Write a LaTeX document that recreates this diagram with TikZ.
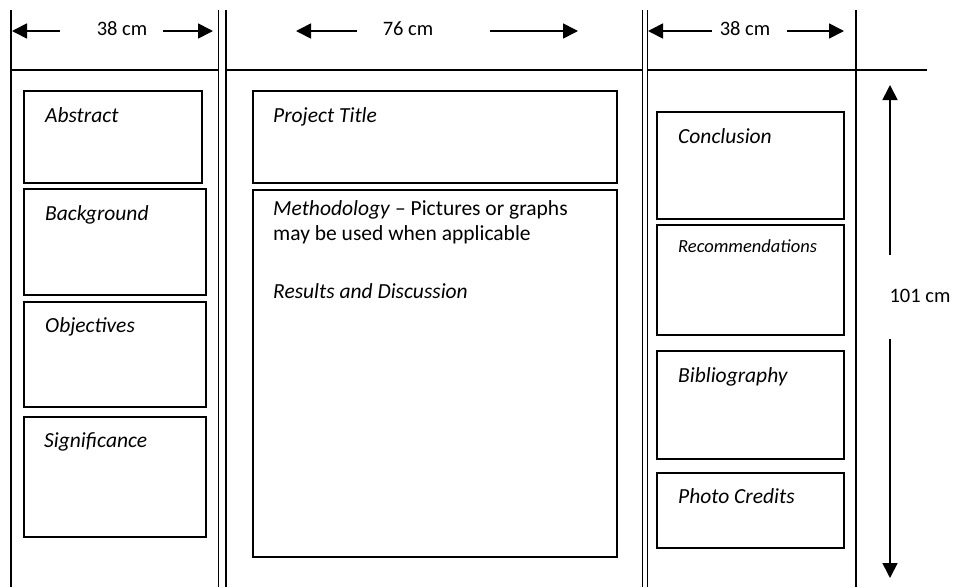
\documentclass[tikz,border=0pt]{standalone}
\usepackage{fontspec}
\setmainfont{Carlito}
\usetikzlibrary{arrows.meta}
\begin{document}
\begin{tikzpicture}[x=1pt,y=-1pt,
  frame/.style={line width=1.1pt},
  box/.style={draw, line width=1.4pt, anchor=north west, inner sep=0pt, outer sep=0pt},
  lbl/.style={anchor=base west, inner sep=0pt, font=\fontsize{21.5}{25}\selectfont\itshape},
  smalllbl/.style={anchor=base west, inner sep=0pt, font=\fontsize{18.5}{21}\selectfont\itshape},
  plain/.style={anchor=base west, inner sep=0pt, font=\fontsize{21.5}{25}\selectfont},
  dimtext/.style={inner sep=0pt, font=\fontsize{20.5}{25}\selectfont},
  dimarrow/.style={line width=1.7pt, -{Triangle[length=15pt,width=15pt]}}]
\useasboundingbox (0,0) rectangle (953,587);

% frame lines
\draw[frame] (11,10) -- (11,587);
\draw[frame] (218.5,10) -- (218.5,587);
\draw[frame] (226,10) -- (226,587);
\draw[frame] (642.5,10) -- (642.5,587);
\draw[frame] (647.5,10) -- (647.5,587);
\draw[frame] (856,10) -- (856,587);
\draw[frame] (11,70) -- (218.5,70);
\draw[frame] (226,70) -- (642.5,70);
\draw[frame] (647.5,70) -- (927,70);

% left column
\node[box, minimum width=178pt, minimum height=92pt] (abs) at (24,91) {};
\node[box, minimum width=182pt, minimum height=106pt] (bg) at (24,189) {};
\node[box, minimum width=182pt, minimum height=105pt] (obj) at (24,302) {};
\node[box, minimum width=182pt, minimum height=120pt] (sig) at (24,417) {};
\node[lbl] (absT) at (45,122) {Abstract};
\node[lbl] (bgT) at (45,220) {Background};
\node[lbl] (objT) at (45,332) {Objectives};
\node[lbl] (sigT) at (44,447) {Significance};

% middle column
\node[box, minimum width=364pt, minimum height=92pt] (title) at (253,91) {};
\node[box, minimum width=364pt, minimum height=367pt] (meth) at (253,190) {};
\node[lbl] (titleT) at (273,122) {Project Title};
\node[plain] (methT1) at (273,215) {\textit{Methodology} – Pictures or graphs};
\node[plain] (methT2) at (273,240) {may be used when applicable};
\node[lbl] (resT) at (273,298) {Results and Discussion};

% right column
\node[box, minimum width=187pt, minimum height=107pt] (conc) at (657,112) {};
\node[box, minimum width=187pt, minimum height=110pt] (rec) at (657,225) {};
\node[box, minimum width=187pt, minimum height=108pt] (bib) at (657,351) {};
\node[box, minimum width=187pt, minimum height=75pt] (photo) at (657,473) {};
\node[lbl] (concT) at (678,143) {Conclusion};
\node[smalllbl] (recT) at (678,252) {Recommendations};
\node[lbl] (bibT) at (678,382) {Bibliography};
\node[lbl] (photoT) at (678,503) {Photo Credits};

% dimensions
\node[dimtext] (d1) at (122,29) {38 cm};
\coordinate (d1a) at (60,31); \coordinate (d1b) at (12,31);
\coordinate (d1c) at (163,31); \coordinate (d1d) at (213,31);
\draw[dimarrow] (d1a) -- (d1b);
\draw[dimarrow] (d1c) -- (d1d);

\node[dimtext] (d2) at (408,29) {76 cm};
\coordinate (d2a) at (357,31); \coordinate (d2b) at (296,31);
\coordinate (d2c) at (490,31); \coordinate (d2d) at (578,31);
\draw[dimarrow] (d2a) -- (d2b);
\draw[dimarrow] (d2c) -- (d2d);

\node[dimtext] (d3) at (745,29) {38 cm};
\coordinate (d3a) at (712,31); \coordinate (d3b) at (648,31);
\coordinate (d3c) at (787,31); \coordinate (d3d) at (844,31);
\draw[dimarrow] (d3a) -- (d3b);
\draw[dimarrow] (d3c) -- (d3d);

\node[dimtext] (d4) at (920,296) {101 cm};
\coordinate (d4a) at (890,255); \coordinate (d4b) at (890,85);
\coordinate (d4c) at (890,339); \coordinate (d4d) at (890,578);
\draw[dimarrow] (d4a) -- (d4b);
\draw[dimarrow] (d4c) -- (d4d);
\end{tikzpicture}
\end{document}
